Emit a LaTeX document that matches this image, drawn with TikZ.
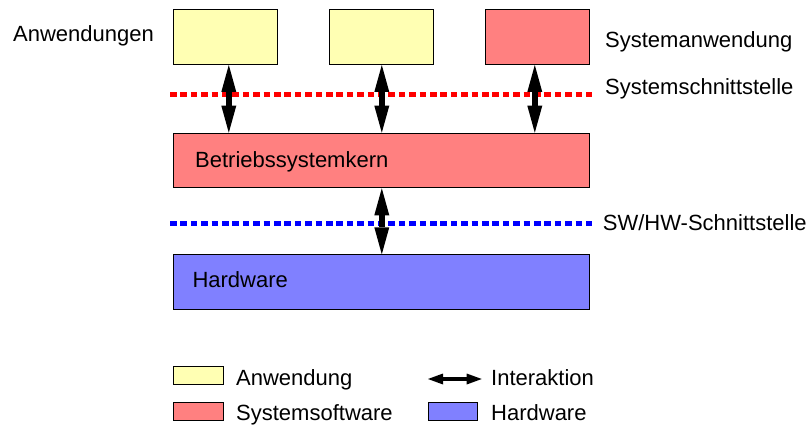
\documentclass[tikz,border=0pt]{standalone}
\usepackage{fontspec}
\setmainfont{Liberation Sans}
\usetikzlibrary{arrows.meta}
\definecolor{appyellow}{RGB}{255,255,179}
\definecolor{sysred}{RGB}{255,128,128}
\definecolor{hwblue}{RGB}{128,128,255}
\begin{document}
\begin{tikzpicture}[x=1pt,y=-1pt,
  box/.style={draw=black, line width=1pt, anchor=north west, inner sep=0pt},
  lbl/.style={font=\fontsize{22}{26}\selectfont, inner sep=0pt, anchor=base west},
  iface/.style={line width=5pt, dash pattern=on 6.6pt off 3.8pt},
  dbl/.style={line width=6pt, {Triangle[width=15pt,length=27pt,line width=0pt]}-{Triangle[width=15pt,length=27pt,line width=0pt]}},
  dblsmall/.style={line width=4pt, {Triangle[width=11pt,length=15pt,line width=0pt]}-{Triangle[width=11pt,length=15pt,line width=0pt]}},
]
\useasboundingbox (0,0) rectangle (812,425);
% application boxes
\node[box, fill=appyellow, minimum width=104pt, minimum height=54.7pt] (a1) at (173.3,9.3) {};
\node[box, fill=appyellow, minimum width=104pt, minimum height=54.7pt] (a2) at (329.3,9.3) {};
\node[box, fill=sysred, minimum width=104pt, minimum height=54.7pt] (a3) at (485.3,9.3) {};
% kernel and hardware
\node[box, fill=sysred, minimum width=416pt, minimum height=54.6pt] (k) at (173.3,132.7) {};
\node[box, fill=hwblue, minimum width=416pt, minimum height=54.7pt] (hw) at (173.3,254.3) {};
% interfaces
\coordinate (si0) at (170,95);
\coordinate (si1) at (592,95);
\coordinate (hi0) at (170,223.3);
\coordinate (hi1) at (592,223.3);
\draw[iface, red] (si0) -- (si1);
\draw[iface, blue] (hi0) -- (hi1);
% interactions
\draw[dbl] ([xshift=3pt]a1.south) -- ([xshift=3pt]a1.south |- k.north);
\draw[dbl] (a2.south) -- (a2.south |- k.north);
\draw[dbl] ([xshift=-3pt]a3.south) -- ([xshift=-3pt]a3.south |- k.north);
\draw[dbl] (k.south) -- (hw.north);
% labels
\node[lbl] (tAnw) at (13,41.7) {Anwendungen};
\node[lbl] (tSysA) at (605,47.5) {Systemanwendung};
\node[lbl] (tSysS) at (605,94.5) {Systemschnittstelle};
\node[lbl] (tSWHW) at (602.7,230) {SW/HW-Schnittstelle};
\node[lbl] (tK) at (195,167.3) {Betriebssystemkern};
\node[lbl] (tHW) at (192.3,287.7) {Hardware};
% legend
\node[box, fill=appyellow, minimum width=49.4pt, minimum height=18pt] (lA) at (173.3,366) {};
\node[box, fill=sysred, minimum width=49.4pt, minimum height=18pt] (lS) at (173.3,402.3) {};
\node[box, fill=hwblue, minimum width=48.7pt, minimum height=18pt] (lH) at (428,402.3) {};
\coordinate (lI0) at (428,379);
\coordinate (lI1) at (481.7,379);
\draw[dblsmall] (lI0) -- (lI1);
\node[lbl] (tlA) at (236,385) {Anwendung};
\node[lbl] (tlS) at (236,420) {Systemsoftware};
\node[lbl] (tlI) at (491,385) {Interaktion};
\node[lbl] (tlH) at (491,420) {Hardware};
\end{tikzpicture}
\end{document}
